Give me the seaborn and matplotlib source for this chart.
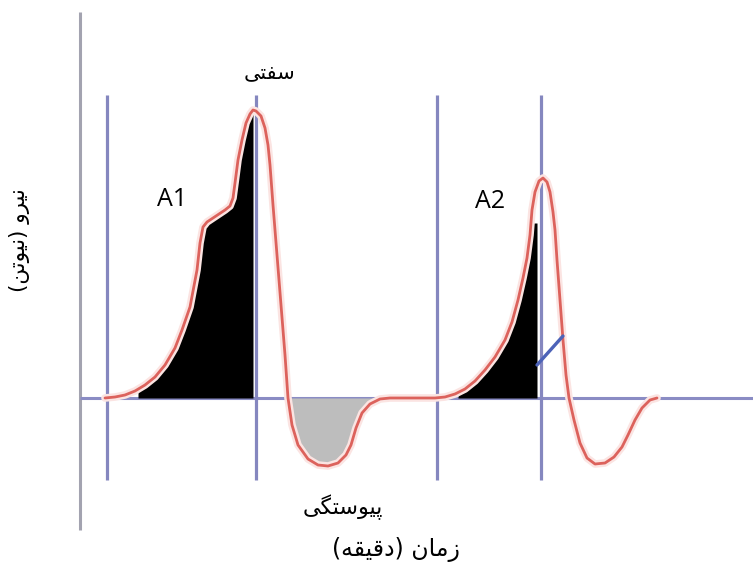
import numpy as np
import pandas as pd
import matplotlib
matplotlib.use("Agg")
import matplotlib.pyplot as plt
import matplotlib.patheffects as pe
import seaborn as sns

# ---- data (time units, force units) ----
curve_t = [25, 35, 45, 55, 65, 75, 85, 95, 102, 110, 117, 120, 123, 127, 133, 139, 145, 150,
           153, 155, 158, 162, 166, 170, 173, 176, 181, 185, 188, 190, 193, 197, 201, 205,
           208, 212, 218, 228, 238, 248, 258, 266, 271, 276, 282, 290, 300, 310, 355, 365,
           375, 385, 395, 405, 415, 425, 432, 438, 443, 447, 450, 452, 455, 459, 463, 467,
           470, 473, 475, 477, 480, 483, 486, 489, 494, 500, 507, 515, 525, 534, 542, 548,
           555, 562, 570, 577]
curve_f = [0, 1, 3, 7, 13, 21, 33, 50, 68, 91, 128, 155, 171, 176, 180, 184, 188, 192,
           200, 215, 238, 258, 275, 284, 288, 287, 282, 270, 253, 233, 193, 143, 93, 43,
           0, -27, -47, -61, -67, -68, -65, -57, -47, -30, -15, -6, -1, 0, 0, 1,
           4, 9, 17, 28, 41, 58, 76, 98, 120, 140, 163, 188, 206, 217, 220, 216,
           206, 186, 168, 138, 98, 58, 23, 0, -22, -45, -60, -66, -65, -59, -49, -37,
           -22, -10, -2, 0]

markers_t = [27, 176, 357, 461]          # vertical reference lines
a1_range = (58, 173)                     # hardness area 1
a2_range = (378, 457)                    # area 2
a2_cap = 175
cohesion_range = (208, 293)              # negative area (grey)
slope_t = [457, 483]
slope_f = [33, 62]

label_y = "(\uFEE6\uFE97\uFEEE\uFBFF\uFEE7) \uFEED\uFEAE\uFBFF\uFEE7"          # نیرو (نیوتن)
label_x = "(\uFEEA\uFED8\uFBFF\uFED7\uFEA9) \uFEE5\uFE8E\uFEE3\uFEAF"          # زمان (دقیقه)
label_hard = "\uFBFD\uFE98\uFED4\uFEB3"                                         # سفتی
label_coh = "\uFBFD\uFB95\uFE98\uFEB3\uFEEE\uFBFF\uFB58"                       # پیوستگی
area_labels = ["A1", "A2"]

# ---- drawing ----
sns.set_theme(style="white")
plt.rcParams["font.family"] = ["DejaVu Sans"]

fig = plt.figure(figsize=(7.53, 5.70), dpi=100)
ax = fig.add_axes([0, 0, 1, 1])
ax.set_xlim(-80, 673)
ax.set_ylim(-172, 398)
ax.axis("off")

df = pd.DataFrame({"t": curve_t, "f": curve_f})
ct = np.array(curve_t, float)
cf = np.array(curve_f, float)

# axes lines
ax.plot([0, 0], [-132, 386], color="#a3a3b0", lw=2.2, solid_capstyle="butt", zorder=1)
ax.plot([0, 673], [0, 0], color="#8a8cc4", lw=2.2, solid_capstyle="butt", zorder=1)
for m in markers_t:
    ax.plot([m, m], [-82, 303], color="#8587bf", lw=2.3, solid_capstyle="butt", zorder=1)

# fills
g = np.linspace(a1_range[0], a1_range[1], 300)
ax.fill_between(g, 0, np.interp(g, ct, cf), color="black", lw=0, zorder=2)
g = np.linspace(a2_range[0], a2_range[1], 300)
ax.fill_between(g, 0, np.minimum(np.interp(g, ct, cf), a2_cap), color="black", lw=0, zorder=2)
g = np.linspace(cohesion_range[0], cohesion_range[1], 300)
ax.fill_between(g, 0, np.interp(g, ct, cf), color="#bdbdbd", lw=0, zorder=2)

# curve
sns.lineplot(data=df, x="t", y="f", sort=False, color="#dc625c", lw=2.0, ax=ax, zorder=4,
             path_effects=[pe.Stroke(linewidth=5.5, foreground="#fbe4e2"), pe.Normal()])
ax.plot(slope_t, slope_f, color="#4d63b8", lw=2.4, zorder=5)

# texts
ax.text(92, 198, area_labels[0], fontsize=18, color="black",
        family=["Open Sans", "DejaVu Sans"], ha="center", va="center", zorder=6)
ax.text(410, 196, area_labels[1], fontsize=18, color="black",
        family=["Open Sans", "DejaVu Sans"], ha="center", va="center", zorder=6)
ax.text(190, 326, label_hard, fontsize=15, color="black", ha="center", va="center")
ax.text(263, -109, label_coh, fontsize=16, color="black", ha="center", va="center")
ax.text(316, -152, label_x, fontsize=17, color="black", ha="center", va="center")
ax.text(-60, 158, label_y, fontsize=15.5, color="black", ha="center", va="center",
        rotation=90)

fig.savefig("out.png", dpi=100)
